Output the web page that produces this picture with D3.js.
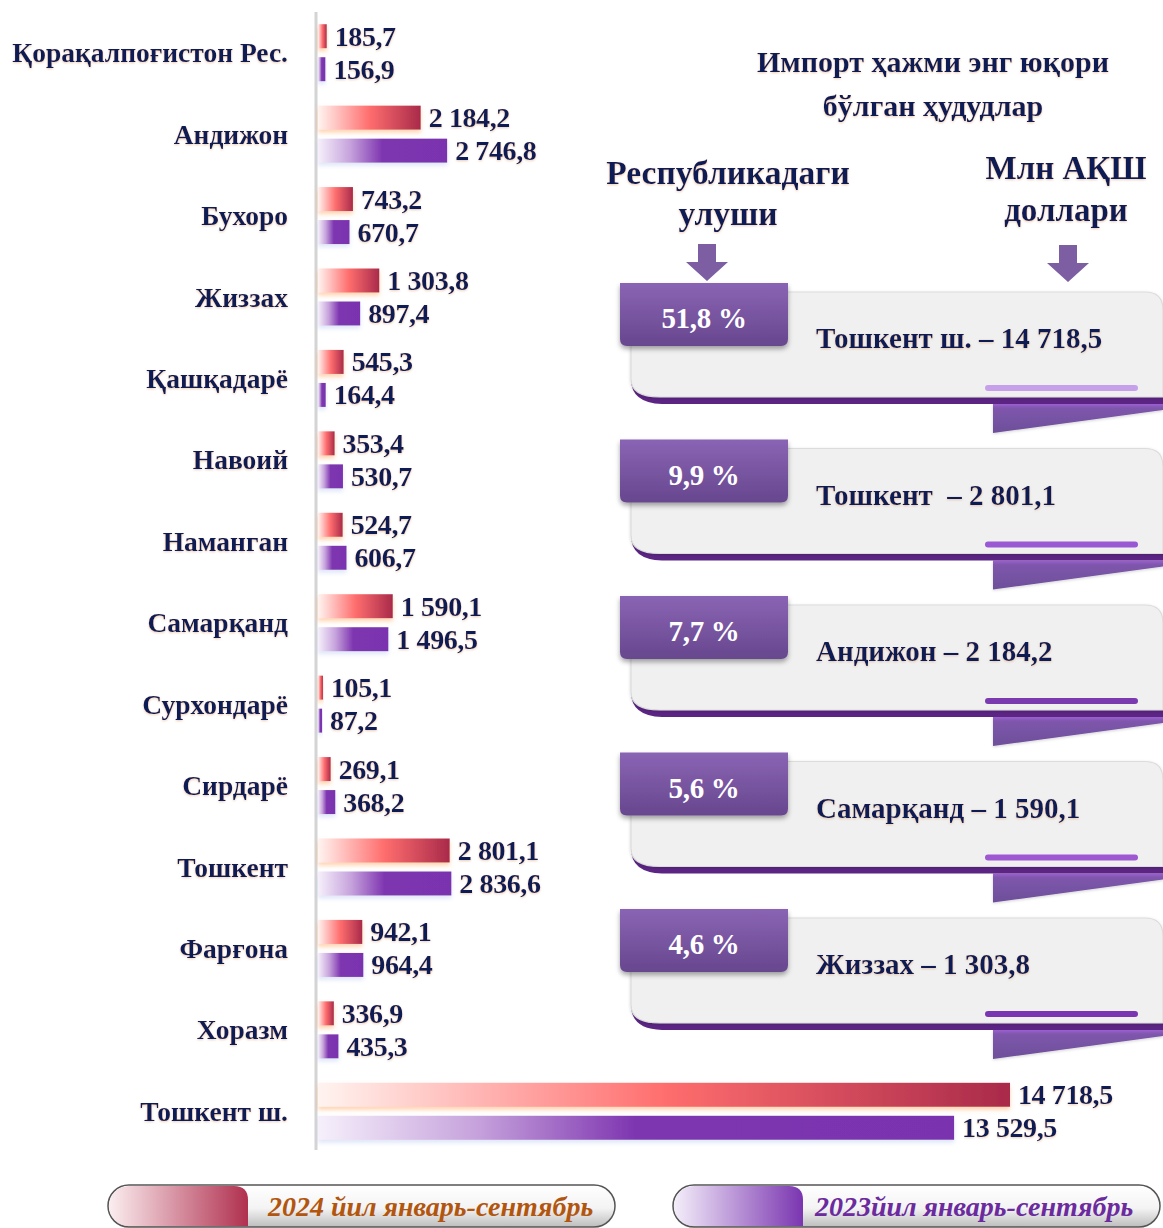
<!DOCTYPE html>
<html><head><meta charset="utf-8">
<script src="https://cdn.jsdelivr.net/npm/d3@7"></script>
<style>
html,body{margin:0;padding:0;background:#fff;}
svg{display:block;font-family:"Liberation Serif","Times New Roman",serif;}
</style></head>
<body><svg id="c" width="1163" height="1228"></svg>
<script>
const categories = ["Қорақалпоғистон Рес.","Андижон","Бухоро","Жиззах","Қашқадарё","Навоий","Наманган","Самарқанд","Сурхондарё","Сирдарё","Тошкент","Фарғона","Хоразм","Тошкент ш."];
const values2024 = [185.7,2184.2,743.2,1303.8,545.3,353.4,524.7,1590.1,105.1,269.1,2801.1,942.1,336.9,14718.5];
const values2023 = [156.9,2746.8,670.7,897.4,164.4,530.7,606.7,1496.5,87.2,368.2,2836.6,964.4,435.3,13529.5];
const topNames = ["Тошкент ш.","Тошкент ","Андижон","Самарқанд","Жиззах"];
const topValues = [14718.5,2801.1,2184.2,1590.1,1303.8];
const topShares = [51.8,9.9,7.7,5.6,4.6];
const seriesLabels = ["2024 йил январь-сентябрь","2023йил январь-сентябрь"];
const titleLines = ["Импорт ҳажми энг юқори","бўлган ҳудудлар"];
const shareHeader = ["Республикадаги","улуши"];
const unitHeader = ["Млн АҚШ","доллари"];

const loc = d3.formatLocale({decimal:",",thousands:" ",grouping:[3],currency:["",""]});
const fmt = loc.format(",.1f");
const svg = d3.select("#c");
const defs = svg.append("defs");
const navy = "#0d1f55";

function lg(id, stops, x2, y2){
  const g = defs.append("linearGradient").attr("id",id).attr("x1",0).attr("y1",0).attr("x2",x2===undefined?1:x2).attr("y2",y2===undefined?0:y2);
  stops.forEach(s=>g.append("stop").attr("offset",s[0]).attr("stop-color",s[1]));
}
lg("gRed",[[0,"#fff4f0"],[0.5,"#ff6e6e"],[1,"#a92a4a"]]);
lg("gPur",[[0,"#f6f0fb"],[0.25,"#c6a2dc"],[0.5,"#7e35b0"],[1,"#7a33af"]]);
lg("gBox",[[0,"#8a64b4"],[1,"#67478e"]],0,1);
lg("gFold",[[0,"#9b5fd0"],[0.15,"#7e56ac"],[1,"#6d4f9a"]],0,1);
lg("gPill",[[0,"#ffffff"],[0.55,"#f4f4f4"],[1,"#bdbdbd"]],0,1);
lg("gLegR",[[0,"#fbeef0"],[1,"#b0304f"]]);
lg("gLegP",[[0,"#f4eefa"],[1,"#7a35b0"]]);

function shadow(id,color,dy,sd,op){
  const f=defs.append("filter").attr("id",id).attr("x","-20%").attr("y","-40%").attr("width","140%").attr("height","200%");
  f.append("feDropShadow").attr("dx",0).attr("dy",dy).attr("stdDeviation",sd).attr("flood-color",color).attr("flood-opacity",op);
}
shadow("shRed","#ffb070",3,2,0.55);
shadow("shPur","#b8c8ef",3,2,0.45);
shadow("shText","#d9a070",1,0.8,0.55);
shadow("shBox","#000",3,2.5,0.35);
shadow("shCard","#000",1,1.5,0.18);

// ---------- left bar chart ----------
const x = d3.scaleLinear().domain([0,14718.5]).range([318,1010]);
const y = d3.scaleBand().domain(categories).range([12,1152]);
const bh = 24, off = 16.5;

svg.append("line").attr("x1",316).attr("x2",316).attr("y1",12).attr("y2",1150)
  .attr("stroke","#d4d4d4").attr("stroke-width",3);

const rows = svg.append("g").selectAll("g").data(categories).join("g");
rows.each(function(c,i){
  const g=d3.select(this);
  const cy=y(c)+y.bandwidth()/2;
  g.append("text").attr("x",288).attr("y",cy).attr("text-anchor","end").attr("dominant-baseline","central")
    .attr("font-size",27.5).attr("font-weight","bold").attr("fill",navy).attr("filter","url(#shText)").text(c);
  const v1=values2024[i], v2=values2023[i];
  g.append("rect").attr("x",x(0)).attr("y",cy-off-bh/2).attr("width",x(v1)-x(0)).attr("height",bh)
    .attr("fill","url(#gRed)").attr("filter","url(#shRed)");
  g.append("rect").attr("x",x(0)).attr("y",cy+off-bh/2).attr("width",x(v2)-x(0)).attr("height",bh)
    .attr("fill","url(#gPur)").attr("filter","url(#shPur)");
  g.append("text").attr("x",x(v1)+8).attr("y",cy-off).attr("dominant-baseline","central")
    .attr("font-size",28).attr("font-weight","bold").attr("fill",navy).attr("letter-spacing",-0.4).attr("filter","url(#shText)").text(fmt(v1));
  g.append("text").attr("x",x(v2)+8).attr("y",cy+off).attr("dominant-baseline","central")
    .attr("font-size",28).attr("font-weight","bold").attr("fill",navy).attr("letter-spacing",-0.4).attr("filter","url(#shText)").text(fmt(v2));
});

// ---------- right panel ----------
const R = svg.append("g");
titleLines.forEach((t,i)=>R.append("text").attr("x",933).attr("y",61+i*44).attr("text-anchor","middle").attr("dominant-baseline","central")
  .attr("font-size",30).attr("font-weight","bold").attr("fill",navy).attr("filter","url(#shText)").text(t));
shareHeader.forEach((t,i)=>R.append("text").attr("x",728).attr("y",172+i*41).attr("text-anchor","middle").attr("dominant-baseline","central")
  .attr("font-size",33.5).attr("font-weight","bold").attr("fill",navy).attr("filter","url(#shText)").text(t));
unitHeader.forEach((t,i)=>R.append("text").attr("x",1066).attr("y",168+i*42).attr("text-anchor","middle").attr("dominant-baseline","central")
  .attr("font-size",33).attr("font-weight","bold").attr("fill",navy).attr("filter","url(#shText)").text(t));

function arrow(cx,top){
  R.append("path").attr("d",`M${cx-9},${top} H${cx+9} V${top+18} H${cx+21} L${cx},${top+37} L${cx-21},${top+18} H${cx-9} Z`)
   .attr("fill","#7d5ea3");
}
arrow(707,244); arrow(1068,245);

const lineCols = ["#c6a0ea","#9a58d4","#7b3ab0","#9d58d2","#7a35b2"];
const cardY = d3.scaleLinear().domain([0,4]).range([283,909]);
topNames.forEach((n,i)=>{
  const t = cardY(i);
  const g = R.append("g");
  g.append("path").attr("d",`M993,${t+121} L1163,${t+121} L1163,${t+127} L993,${t+150} Z`).attr("fill","url(#gFold)").attr("filter","url(#shCard)");
  g.append("path").attr("d",`M631,${t+96} Q631,${t+120} 662,${t+121} L1163,${t+121} L1163,${t+113} L660,${t+113} Q636,${t+112} 631,${t+96} Z`)
    .attr("fill","#5c2584");
  g.append("path").attr("d",`M631,${t+9} H1145 Q1163,${t+9} 1163,${t+27} V${t+114} H660 Q631,${t+114} 631,${t+96} Z`)
    .attr("fill","#f0f0f0").attr("stroke","#dcdcdc").attr("stroke-width",1.2).attr("filter","url(#shCard)");
  g.append("line").attr("x1",988).attr("x2",1135).attr("y1",t+105).attr("y2",t+105)
    .attr("stroke",lineCols[i]).attr("stroke-width",6).attr("stroke-linecap","round");
  g.append("path").attr("d",`M620,${t} H788 V${t+56} Q788,${t+63} 781,${t+63} H627 Q620,${t+63} 620,${t+56} Z`)
    .attr("fill","url(#gBox)").attr("filter","url(#shBox)");
  g.append("text").attr("x",704).attr("y",t+35).attr("text-anchor","middle").attr("dominant-baseline","central")
    .attr("font-size",29).attr("font-weight","bold").attr("fill","#fff").attr("letter-spacing",-0.3).text(fmt(topShares[i])+" %");
  g.append("text").attr("x",816).attr("y",t+55).attr("dominant-baseline","central")
    .attr("font-size",29).attr("font-weight","bold").attr("fill",navy).attr("filter","url(#shText)")
    .attr("xml:space","preserve").text(n+" – "+fmt(topValues[i]));
});

// ---------- legend ----------
const legends = [
  {x0:108,x1:615,fillEnd:248,grad:"url(#gLegR)",color:"#b2560f",tx:268},
  {x0:673,x1:1160,fillEnd:803,grad:"url(#gLegP)",color:"#6b2a9e",tx:815}
];
seriesLabels.forEach((s,i)=>{
  const L = legends[i];
  const g = svg.append("g");
  const top=1185, h=42;
  g.append("rect").attr("x",L.x0).attr("y",top).attr("width",L.x1-L.x0).attr("height",h).attr("rx",21)
    .attr("fill","url(#gPill)").attr("stroke","#555").attr("stroke-width",1.5);
  g.append("path").attr("d",`M${L.x0+21},${top+1} H${L.fillEnd-14} Q${L.fillEnd},${top+1} ${L.fillEnd},${top+15} V${top+h-1} H${L.x0+21} A20,20 0 0 1 ${L.x0+21},${top+1} Z`)
    .attr("fill",L.grad);
  g.append("text").attr("x",L.tx).attr("y",top+h/2).attr("dominant-baseline","central")
    .attr("font-size",28).attr("font-weight","bold").attr("font-style","italic").attr("fill",L.color).text(s);
});
</script></body></html>
